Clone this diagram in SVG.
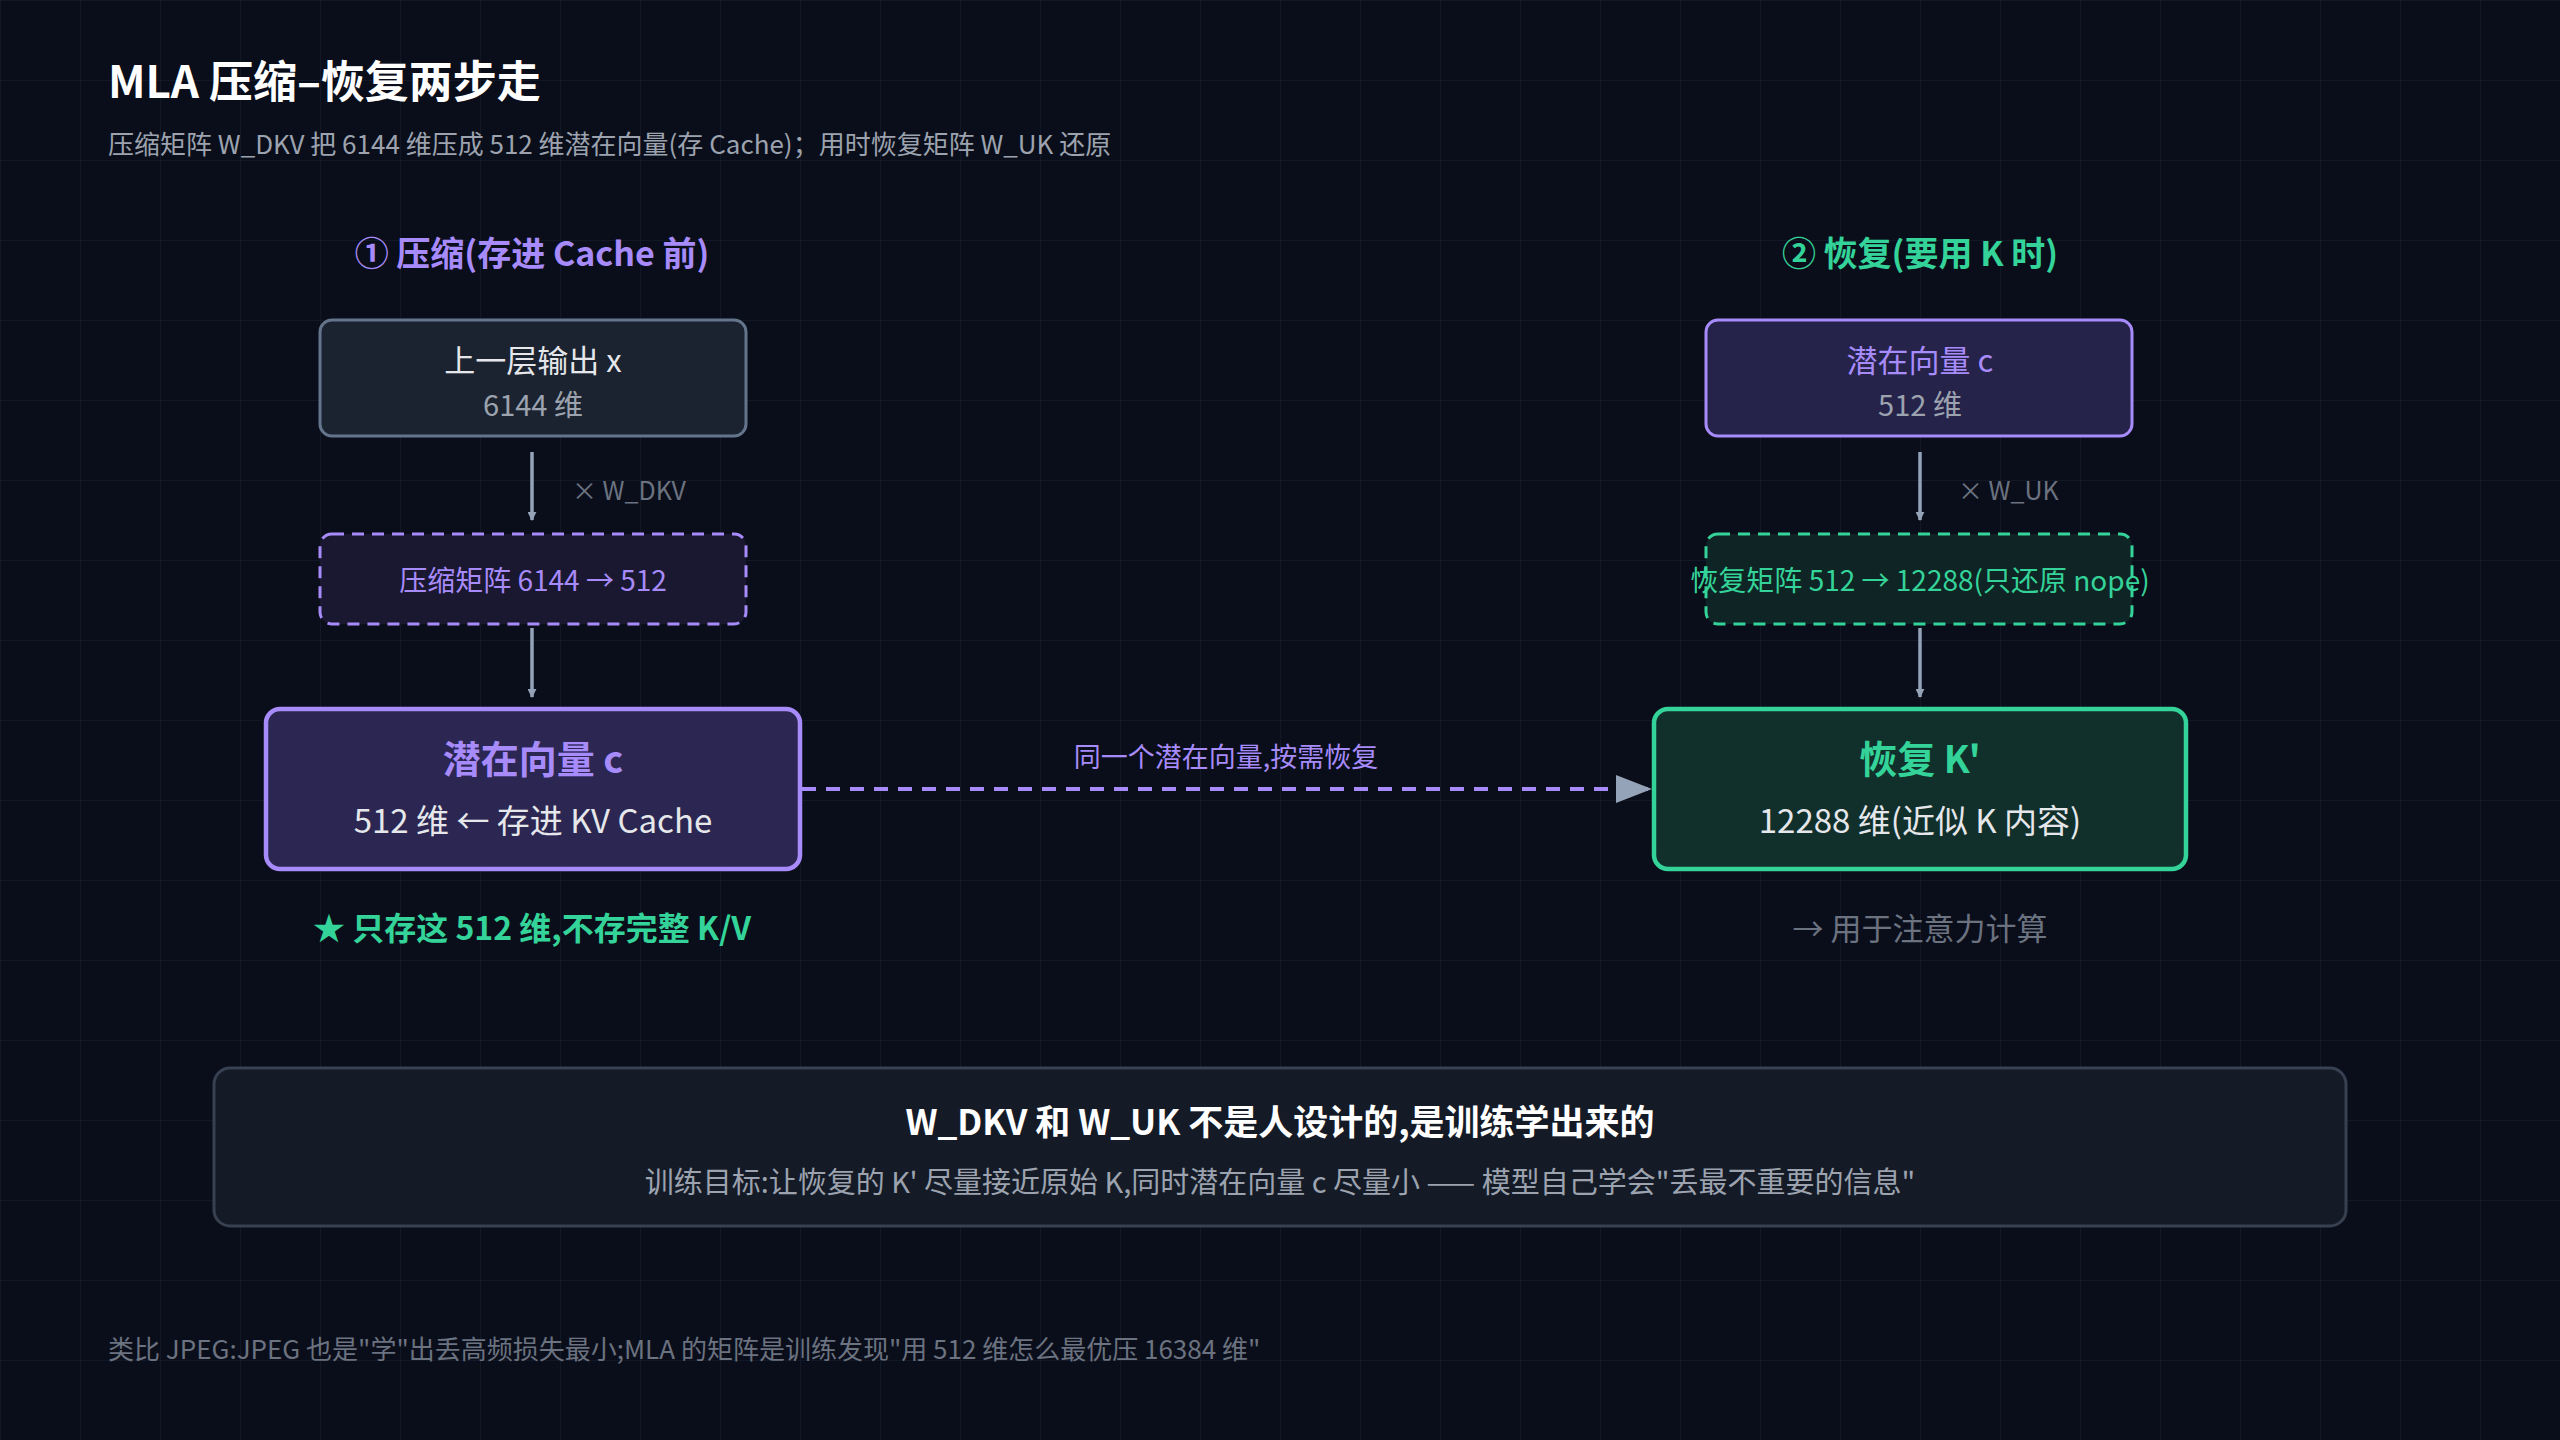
<svg xmlns="http://www.w3.org/2000/svg" width="2560" height="1440" viewBox="0 0 2560 1440">
<defs>
<pattern id="grid" width="80" height="80" patternUnits="userSpaceOnUse"><path d="M80 0H0V80" fill="none" stroke="#151b29" stroke-width="1.5"/></pattern>
<marker id="ah" viewBox="0 0 10 10" refX="9" refY="5" markerWidth="5" markerHeight="5" orient="auto" markerUnits="strokeWidth"><path d="M0 0L10 5L0 10z" fill="#94a3b8"/></marker>
<marker id="ah2" viewBox="0 0 10 10" refX="9" refY="5" markerWidth="9" markerHeight="9" orient="auto" markerUnits="userSpaceOnUse"><path d="M0 0L10 5L0 10z" fill="#94a3b8"/></marker>
<style>
text{font-family:"Noto Sans CJK SC","Noto Sans",sans-serif}
.c{text-anchor:middle}
.b{font-weight:bold}
.pu{fill:#a78bfa}.gr{fill:#34d399}.wh{fill:#e5e7eb}.g{fill:#9ca3af}.dg{fill:#6b7280}
.arr{stroke:#94a3b8;stroke-width:3.5;fill:none}
</style>
</defs>
<rect width="2560" height="1440" fill="#0a0e1a"/>
<rect width="2560" height="1440" fill="url(#grid)"/>
<text x="108" y="98" font-size="44" class="b" fill="#ffffff">MLA 压缩–恢复两步走</text>
<text x="108" y="154" font-size="26" class="g">压缩矩阵 W_DKV 把 6144 维压成 512 维潜在向量(存 Cache)；用时恢复矩阵 W_UK 还原</text>
<text x="532" y="266" font-size="34" class="c b pu">① 压缩(存进 Cache 前)</text>
<text x="1920" y="266" font-size="34" class="c b gr">② 恢复(要用 K 时)</text>
<g id="connectors">
<line x1="532" y1="452" x2="532" y2="520" class="arr" marker-end="url(#ah2)"/>
<line x1="532" y1="628" x2="532" y2="697" class="arr" marker-end="url(#ah2)"/>
<line x1="1920" y1="452" x2="1920" y2="520" class="arr" marker-end="url(#ah2)"/>
<line x1="1920" y1="628" x2="1920" y2="697" class="arr" marker-end="url(#ah2)"/>
<text x="572" y="500" font-size="25" class="dg">× W_DKV</text>
<text x="1958" y="500" font-size="25" class="dg">× W_UK</text>
<line x1="802" y1="789" x2="1648" y2="789" stroke="#a78bfa" stroke-width="4" stroke-dasharray="14 10"/>
<path d="M1616 775L1652 789L1616 803z" fill="#94a3b8"/>
<text x="1226" y="767" font-size="27" class="c pu">同一个潜在向量,按需恢复</text>
</g>
<g id="n1"><rect x="320" y="320" width="426" height="116" rx="12" fill="#1b2330" stroke="#64748b" stroke-width="3"/>
<text x="533" y="372" font-size="31" class="c wh">上一层输出 x</text><text x="533" y="416" font-size="29" class="c g">6144 维</text></g>
<g id="n2"><rect x="320" y="534" width="426" height="90" rx="12" fill="#1a1830" stroke="#a78bfa" stroke-width="3" stroke-dasharray="12 8"/>
<text x="533" y="591" font-size="28" class="c pu">压缩矩阵 6144 → 512</text></g>
<g id="n3"><rect x="266" y="709" width="534" height="160" rx="14" fill="#2b2752" stroke="#a78bfa" stroke-width="4.5"/>
<text x="533" y="773" font-size="38" class="c b pu">潜在向量 c</text><text x="533" y="833" font-size="33" class="c wh">512 维 ← 存进 KV Cache</text></g>
<text x="532" y="940" font-size="32" class="c b gr">★ 只存这 512 维,不存完整 K/V</text>
<g id="n4"><rect x="1706" y="320" width="426" height="116" rx="12" fill="#25234a" stroke="#a78bfa" stroke-width="3"/>
<text x="1920" y="372" font-size="31" class="c pu">潜在向量 c</text><text x="1920" y="416" font-size="29" class="c g">512 维</text></g>
<g id="n5"><rect x="1706" y="534" width="426" height="90" rx="12" fill="#0f2424" stroke="#34d399" stroke-width="3" stroke-dasharray="12 8"/>
<text x="1920" y="591" font-size="28" class="c gr">恢复矩阵 512 → 12288(只还原 nope)</text></g>
<g id="n6"><rect x="1654" y="709" width="532" height="160" rx="14" fill="#11302b" stroke="#34d399" stroke-width="4.5"/>
<text x="1920" y="773" font-size="38" class="c b gr">恢复 K'</text><text x="1920" y="833" font-size="33" class="c wh">12288 维(近似 K 内容)</text></g>
<text x="1920" y="940" font-size="31" class="c dg">→ 用于注意力计算</text>
<g id="note"><rect x="214" y="1068" width="2132" height="158" rx="16" fill="#141b27" stroke="#374151" stroke-width="3"/>
<text x="1280" y="1135" font-size="35" class="c b" fill="#ffffff">W_DKV 和 W_UK 不是人设计的,是训练学出来的</text>
<text x="1280" y="1193" font-size="29" class="c g">训练目标:让恢复的 K' 尽量接近原始 K,同时潜在向量 c 尽量小 —— 模型自己学会"丢最不重要的信息"</text></g>
<text x="108" y="1359" font-size="26" class="dg">类比 JPEG:JPEG 也是"学"出丢高频损失最小;MLA 的矩阵是训练发现"用 512 维怎么最优压 16384 维"</text>
</svg>
